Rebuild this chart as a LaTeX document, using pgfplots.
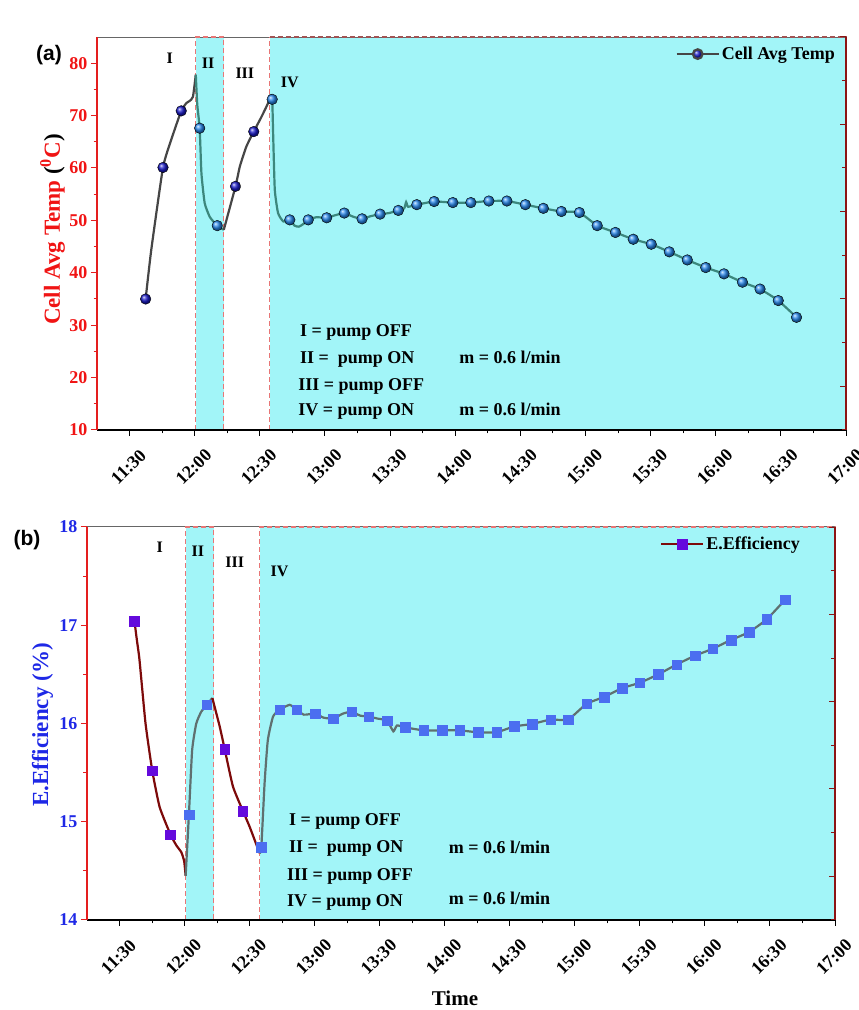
\documentclass[border=0pt]{standalone}
\usepackage{pgfplots}
\pgfplotsset{compat=1.18}
\usepackage{fontspec}
\setmainfont{Liberation Serif}
\newfontfamily\arialf{Liberation Sans}
\definecolor{cyanbg}{RGB}{162,245,248}
\definecolor{dashred}{RGB}{232,118,118}
\definecolor{axred}{RGB}{228,30,30}
\definecolor{tickred}{RGB}{240,20,20}
\definecolor{tickblue}{RGB}{30,40,230}
\definecolor{darkred}{RGB}{140,20,20}
\definecolor{offgray}{RGB}{70,70,70}
\definecolor{onteal}{RGB}{60,135,125}
\definecolor{balldark}{RGB}{25,25,200}
\definecolor{balllight}{RGB}{40,135,235}
\definecolor{effred}{RGB}{125,10,10}
\definecolor{effgray}{RGB}{95,112,112}
\definecolor{sqpurple}{RGB}{100,10,220}
\definecolor{sqblue}{RGB}{75,110,240}

% ---------- data (time in minutes after midnight) ----------
\pgfplotstableread{
t v
697.4 35.0
700.0 44.4
705.4 60.1
709.2 65.4
713.8 70.9
716.2 72.4
717.7 72.8
719.2 73.6
720.5 77.8
}\TaLineI
\pgfplotstableread{
t v
720.5 77.8
721.2 72.0
722.3 67.6
723.1 59.0
724.6 53.3
726.9 50.7
729.2 49.5
730.4 49.0
733.4 48.2
}\TaLineII
\pgfplotstableread{
t v
733.4 48.2
738.8 56.5
740.8 60.3
743.8 64.1
747.2 66.95
750.8 69.8
753.8 72.4
754.8 74.0
}\TaLineIII
\pgfplotstableread{
t v
754.8 74.0
755.7 73.1
756.2 65.4
756.9 55.8
758.4 51.4
760.8 49.8
763.8 50.1
766.0 49.0
768.0 48.8
770.0 49.3
772.3 50.1
776.0 50.6
780.8 50.5
784.0 50.9
788.9 51.4
793.0 50.7
797.1 50.3
801.0 50.8
805.4 51.2
809.5 51.4
813.8 51.9
816.5 52.3
817.4 53.5
818.3 52.6
822.3 53.0
830.3 53.6
838.9 53.4
847.2 53.4
855.5 53.7
863.8 53.7
872.3 53.0
880.6 52.3
888.9 51.7
897.2 51.5
905.4 49.0
913.8 47.7
922.0 46.4
930.3 45.45
938.6 44.0
946.9 42.45
955.4 41.0
963.8 39.8
972.3 38.2
980.4 36.9
988.8 34.7
997.2 31.5
}\TaLineIV
\pgfplotstableread{
t v
697.4 35.0
705.4 60.1
713.8 70.9
738.8 56.5
747.2 66.95
}\TaMarkOff
\pgfplotstableread{
t v
722.3 67.6
730.4 49.0
755.7 73.1
763.8 50.1
772.3 50.1
780.8 50.5
788.9 51.4
797.1 50.3
805.4 51.2
813.8 51.9
822.3 53.0
830.3 53.6
838.9 53.4
847.2 53.4
855.5 53.7
863.8 53.7
872.3 53.0
880.6 52.3
888.9 51.7
897.2 51.5
905.4 49.0
913.8 47.7
922.0 46.4
930.3 45.45
938.6 44.0
946.9 42.45
955.4 41.0
963.8 39.8
972.3 38.2
980.4 36.9
988.8 34.7
997.2 31.5
}\TaMarkOn

\pgfplotstableread{
t v
696.9 17.04
698.0 16.85
699.2 16.65
702.0 16.00
705.1 15.52
708.5 15.15
713.5 14.87
716.2 14.76
718.5 14.69
719.8 14.60
720.5 14.45
}\TbLineI
\pgfplotstableread{
t v
720.5 14.45
722.0 15.07
723.5 15.73
725.4 16.00
727.7 16.12
730.3 16.19
732.8 16.26
}\TbLineII
\pgfplotstableread{
t v
732.8 16.26
736.2 15.97
738.5 15.74
742.3 15.36
746.9 15.11
750.0 14.95
754.6 14.68
}\TbLineIII
\pgfplotstableread{
t v
754.6 14.68
755.4 14.74
756.9 15.39
758.4 15.83
760.8 16.07
763.8 16.14
768.5 16.19
771.7 16.14
775.0 16.09
780.3 16.10
784.0 16.06
788.5 16.05
793.0 16.10
797.0 16.12
801.0 16.08
805.0 16.07
809.0 16.05
813.4 16.03
816.3 15.92
818.0 15.98
821.9 15.96
830.3 15.93
838.8 15.93
846.9 15.93
855.4 15.91
863.9 15.91
872.0 15.97
880.3 15.995
888.8 16.04
896.9 16.04
905.4 16.20
913.5 16.27
921.8 16.36
930.0 16.415
938.5 16.50
946.9 16.60
955.4 16.69
963.5 16.76
972.0 16.85
980.3 16.93
988.5 17.06
997.0 17.26
}\TbLineIV
\pgfplotstableread{
t v
696.9 17.04
705.1 15.52
713.5 14.87
738.5 15.74
746.9 15.11
}\TbMarkOff
\pgfplotstableread{
t v
722.0 15.07
730.3 16.19
755.4 14.74
763.8 16.14
771.7 16.14
780.3 16.10
788.5 16.05
797.0 16.12
805.0 16.07
813.4 16.03
821.9 15.96
830.3 15.93
838.8 15.93
846.9 15.93
855.4 15.91
863.9 15.91
872.0 15.97
880.3 15.995
888.8 16.04
896.9 16.04
905.4 16.20
913.5 16.27
921.8 16.36
930.0 16.415
938.5 16.50
946.9 16.60
955.4 16.69
963.5 16.76
972.0 16.85
980.3 16.93
988.5 17.06
997.0 17.26
}\TbMarkOn

\pgfplotsset{
  timeaxis/.style={
    scale only axis, width=749pt, height=393pt,
    xmin=675, xmax=1020,
    xtick={690,720,...,1020},
    xticklabels={11:30,12:00,12:30,13:00,13:30,14:00,14:30,15:00,15:30,16:00,16:30,17:00},
    minor xtick={705,735,...,1005},
    axis x line=bottom, axis y line=left,
    tick align=outside,
    major tick length=6pt, minor tick length=3.5pt,
    x axis line style={black, line width=1.3pt, -},
    x tick style={black, line width=1pt},
    xticklabel style={font=\fontsize{18}{20}\selectfont\bfseries, xshift=-1pt, yshift=-31pt, rotate=45, anchor=center},
    yticklabel style={font=\fontsize{18}{20}\selectfont\bfseries},
    /pgf/number format/assume math mode=true,
    clip=false, axis on top,
    legend cell align=left,
    legend image code/.code={\draw[mark repeat=2,mark phase=2,##1] plot coordinates {(0pt,0pt) (21pt,0pt) (42pt,0pt)};},
  },
  rightaxis/.style={
    scale only axis, width=749pt, height=393pt,
    xmin=0, xmax=1, ymin=0, ymax=4.5,
    axis x line=none, axis y line*=right,
    ytick={0.5,1.5,2.5,3.5,4.5}, minor ytick={0,1,2,3,4},
    yticklabels={}, tick align=inside,
    y axis line style={darkred, line width=1.3pt, -},
    y tick style={darkred, line width=1pt},
    major tick length=6pt, minor tick length=4pt,
  },
}
\tikzset{
  annot/.style={font=\fontsize{18}{20}\selectfont\bfseries, anchor=west, inner sep=0pt},
  roman/.style={font=\fontsize{16}{18}\selectfont\bfseries, anchor=center, inner sep=0pt},
}

\begin{document}
\begin{tikzpicture}
\useasboundingbox (0pt,0pt) rectangle (859pt,1010pt);

% ================= (a) =================
\begin{axis}[timeaxis, at={(97pt,580pt)}, anchor=south west,
  ymin=10, ymax=85, ytick={10,20,...,80}, minor ytick={15,25,...,75},
  y axis line style={axred, line width=1.3pt, -},
  y tick style={axred, line width=1pt},
  yticklabel style={text=tickred},
  every axis y label/.style={at={(axis description cs:-0.0594,0.51)}, rotate=90, anchor=center,
    font=\fontsize{23}{25}\selectfont\bfseries},
  ylabel={\textcolor{tickred}{Cell Avg Temp} (\textcolor{tickred}{\textsuperscript{0}C})},
  legend style={at={(0.992,0.985)}, anchor=north east, draw=none, fill=none,
    font=\fontsize{18}{20}\selectfont\bfseries},
]
\fill[cyanbg] (axis cs:720.5,10) rectangle (axis cs:733.4,85);
\fill[cyanbg] (axis cs:754.6,10) rectangle (axis cs:1020,85);
\draw[gray!80!black, line width=1pt] (axis cs:675,85) -- (axis cs:1020,85);
\draw[dashred, line width=1.1pt, dash pattern=on 5pt off 3pt] (axis cs:720.5,10) rectangle (axis cs:733.4,85);
\draw[dashred!70!black, line width=1.1pt, dash pattern=on 5pt off 3pt] (axis cs:754.6,85) -- (axis cs:1020,85);
\draw[dashred, line width=1.1pt, dash pattern=on 5pt off 3pt] (axis cs:754.6,10) -- (axis cs:754.6,85);

\addplot[offgray, line width=2.2pt, smooth, tension=0.3, forget plot] table[x=t,y=v] {\TaLineI};
\addplot[onteal, line width=2.2pt, smooth, tension=0.3, forget plot] table[x=t,y=v] {\TaLineII};
\addplot[offgray, line width=2.2pt, smooth, tension=0.3, forget plot] table[x=t,y=v] {\TaLineIII};
\addplot[onteal, line width=2.2pt, smooth, tension=0.3, forget plot] table[x=t,y=v] {\TaLineIV};
\addplot[only marks, mark=ball, mark size=5.3pt, mark options={ball color=balldark}, forget plot] table[x=t,y=v] {\TaMarkOff};
\addplot[only marks, mark=ball, mark size=5.3pt, mark options={ball color=balllight}, forget plot] table[x=t,y=v] {\TaMarkOn};
\addlegendimage{offgray, line width=2.2pt, mark=ball, mark size=4.8pt, mark options={ball color=balldark}}
\addlegendentry{Cell Avg Temp}

\node[roman] at (axis cs:708.5,81.0) {I};
\node[roman] at (axis cs:726.2,80.0) {II};
\node[roman] at (axis cs:743.1,78.1) {III};
\node[roman] at (axis cs:763.8,76.3) {IV};
\node[annot] at (axis cs:768.5,28.6) {I = pump OFF};
\node[annot] at (axis cs:768.5,23.4) {II =\ \ pump ON};
\node[annot] at (axis cs:767.7,18.3) {III = pump OFF};
\node[annot] at (axis cs:767.7,13.5) {IV = pump ON};
\node[annot] at (axis cs:841.8,23.8) {m = 0.6 l/min};
\node[annot] at (axis cs:841.8,13.9) {m = 0.6 l/min};
\end{axis}
\begin{axis}[rightaxis, at={(97pt,580pt)}, anchor=south west]
\end{axis}

% ================= (b) =================
\begin{axis}[timeaxis, width=748pt, at={(87pt,90pt)}, anchor=south west,
  ymin=14, ymax=18, ytick={14,15,16,17,18}, minor ytick={14.5,15.5,16.5,17.5},
  y axis line style={axred, line width=1.3pt, -},
  y tick style={axred, line width=1pt},
  yticklabel style={text=tickblue},
  every axis y label/.style={at={(axis description cs:-0.0595,0.496)}, rotate=90, anchor=center,
    font=\fontsize{23}{25}\selectfont\bfseries},
  ylabel={\textcolor{tickblue}{E.Efficiency (\%)}},
  legend style={at={(0.96,0.985)}, anchor=north east, draw=none, fill=none,
    font=\fontsize{18}{20}\selectfont\bfseries},
]
\fill[cyanbg] (axis cs:720.5,14) rectangle (axis cs:733.4,18);
\fill[cyanbg] (axis cs:754.6,14) rectangle (axis cs:1020,18);
\draw[gray!80!black, line width=1pt] (axis cs:675,18) -- (axis cs:1020,18);
\draw[dashred, line width=1.1pt, dash pattern=on 5pt off 3pt] (axis cs:720.5,14) rectangle (axis cs:733.4,18);
\draw[dashred, line width=1.1pt, dash pattern=on 5pt off 3pt] (axis cs:754.6,14) rectangle (axis cs:1020,18);

\addplot[effred, line width=2.2pt, smooth, tension=0.3, forget plot] table[x=t,y=v] {\TbLineI};
\addplot[effgray, line width=2.2pt, smooth, tension=0.3, forget plot] table[x=t,y=v] {\TbLineII};
\addplot[effred, line width=2.2pt, smooth, tension=0.3, forget plot] table[x=t,y=v] {\TbLineIII};
\addplot[effgray, line width=2.2pt, smooth, tension=0.3, forget plot] table[x=t,y=v] {\TbLineIV};
\addplot[only marks, mark=square*, mark size=4.8pt, mark options={fill=sqpurple, draw=sqpurple}, forget plot] table[x=t,y=v] {\TbMarkOff};
\addplot[only marks, mark=square*, mark size=4.8pt, mark options={fill=sqblue, draw=sqblue}, forget plot] table[x=t,y=v] {\TbMarkOn};
\addlegendimage{effred, line width=2.2pt, mark=square*, mark size=4.4pt, mark options={fill=sqpurple, draw=sqpurple}}
\addlegendentry{E.Efficiency}

\node[roman] at (axis cs:708.5,17.79) {I};
\node[roman] at (axis cs:726.1,17.75) {II};
\node[roman] at (axis cs:743.1,17.64) {III};
\node[roman] at (axis cs:763.8,17.545) {IV};
\node[annot] at (axis cs:768.1,15.0) {I = pump OFF};
\node[annot] at (axis cs:768.1,14.73) {II =\ \ pump ON};
\node[annot] at (axis cs:767.2,14.44) {III = pump OFF};
\node[annot] at (axis cs:767.2,14.18) {IV = pump ON};
\node[annot] at (axis cs:841.8,14.74) {m = 0.6 l/min};
\node[annot] at (axis cs:841.8,14.22) {m = 0.6 l/min};
\end{axis}
\begin{axis}[rightaxis, width=748pt, at={(87pt,90pt)}, anchor=south west]
\end{axis}

% panel letters and x label
\node[font=\arialf\fontsize{21}{23}\selectfont\bfseries] at (49pt,955pt) {(a)};
\node[font=\arialf\fontsize{21}{23}\selectfont\bfseries] at (27pt,470pt) {(b)};
\node[font=\fontsize{21}{23}\selectfont\bfseries] at (455pt,12pt) {Time};
\end{tikzpicture}
\end{document}
